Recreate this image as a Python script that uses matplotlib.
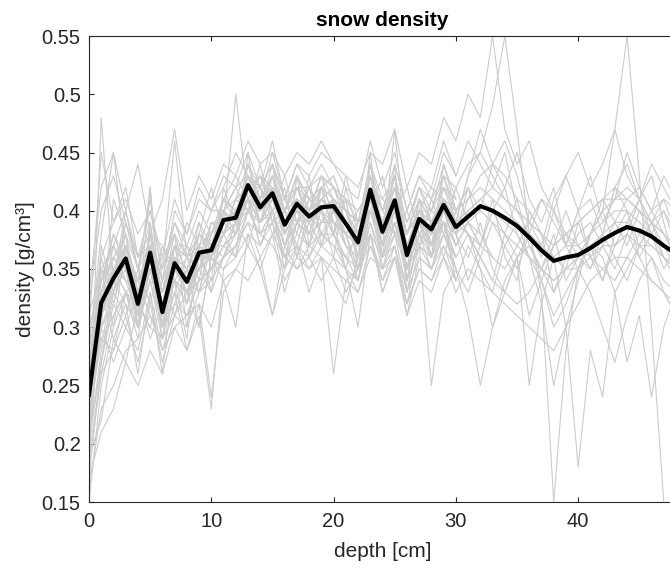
import numpy as np
import matplotlib
matplotlib.use('Agg')
import matplotlib.pyplot as plt
from matplotlib.ticker import FormatStrFormatter

plt.rcParams['font.family'] = ['Liberation Sans', 'DejaVu Sans']

# individual density profiles [g/cm3], one value per cm from the surface
profiles = [
    [.26,.34,.36,.38,.33,.37,.33,.36,.35,.38,.37,.40,.41,.44,.41,.43,.40,.42,.41,.42,.41,.40,.38,.43,.39,.42,.37,.40,.39,.42,.40,.41,.42,.41,.40,.39,.38,.37,.36,.37,.37,.38,.39,.40,.40,.39,.38,.37,.36],
    [.22,.29,.31,.33,.30,.34,.29,.33,.31,.34,.35,.37,.38,.41,.39,.40,.37,.39,.38,.39,.39,.37,.36,.40,.37,.39,.35,.38,.37,.39,.37,.39,.40,.39,.38,.37,.36,.35,.34,.35,.35,.36,.37,.37,.38,.37,.37,.36,.35],
    [.30,.45,.39,.42,.36,.40,.35,.39,.37,.40,.38,.41,.40,.42,.42,.44,.40,.43,.41,.42,.43,.40,.39,.44,.40,.43,.38,.41,.40,.43,.42,.44,.45,.43,.41,.40,.39,.38,.37,.38,.39,.40,.41,.42,.41,.40,.39,.38,.37],
    [.18,.26,.28,.31,.27,.32,.27,.31,.30,.33,.34,.36,.37,.40,.38,.39,.36,.38,.37,.38,.38,.36,.34,.39,.35,.38,.33,.36,.35,.38,.36],
    [.24,.33,.38,.35,.30,.39,.31,.34,.32,.35,.39,.38,.36,.45,.38,.40,.35,.43,.37,.42,.38,.41,.35,.40,.39,.43,.34,.41,.36,.44,.40,.42,.38,.36,.35,.37,.39,.41,.40,.38,.36,.35,.37,.39,.41,.42,.40,.38,.36],
    [.21,.31,.34,.40,.35,.34,.36,.38,.30,.36,.34,.42,.39,.41,.43,.40,.41,.38,.43,.37,.41,.40,.36,.45,.36,.44,.33,.38,.40,.39,.35],
    [.27,.35,.30,.37,.34,.42,.30,.37,.36,.33,.38,.40,.42,.40,.44,.39,.42,.36,.40,.43,.39,.35,.39,.41,.37,.47,.36,.37,.41,.38,.42,.39,.37,.41,.36,.34,.40,.38,.33,.35,.39,.36,.34,.37,.38,.41,.43,.39,.35],
    [.16,.23,.25,.28,.29,.31,.28,.30,.31,.32,.30,.34,.35,.37,.35,.38,.36,.35,.37,.36,.35,.34,.33,.36,.35,.37,.32,.35,.34,.36,.33,.35,.34,.33,.32,.31,.30,.29,.28,.30,.32,.34,.35,.36,.36,.35,.34,.33,.32],
    [.32,.40,.43,.39,.35,.41,.34,.40,.38,.41,.40,.42,.45,.43,.41,.45,.41,.44,.42,.44,.42,.41,.40,.42,.40,.44,.40,.43,.41,.45,.43,.46,.44,.42,.45,.40,.38,.41,.39,.37,.40,.41,.38,.42,.44,.41,.39,.40,.38],
    [.20,.28,.35,.33,.29,.36,.32,.34,.29,.37,.33,.36,.39,.41,.37,.40,.37,.41,.36,.39,.41,.37,.35,.41,.36,.40,.34,.39,.36,.40,.37],
    [.25,.37,.33,.36,.31,.35,.33,.38,.34,.39,.35,.38,.41,.42,.39,.41,.39,.40,.42,.38,.40,.39,.37,.42,.40,.38,.35,.41,.37,.39,.38,.36,.39,.35,.33,.36,.38,.34,.31,.33,.35,.37,.36,.33,.35,.37,.36,.34,.33],
    [.19,.33,.29,.32,.26,.33,.28,.32,.35,.30,.36,.35,.37,.39,.36,.38,.33,.37,.35,.36,.34,.32,.36,.38,.33,.36,.31,.34,.33,.36,.34],
    [.28,.38,.45,.36,.34,.37,.35,.46,.36,.38,.37,.41,.39,.43,.42,.44,.38,.42,.40,.43,.42,.39,.38,.41,.39,.43,.37,.40,.42,.41,.39,.43,.47,.44,.42,.45,.41,.39,.42,.37,.40,.43,.39,.41,.45,.42,.40,.43,.41],
    [.23,.31,.36,.34,.33,.38,.30,.36,.34,.36,.39,.39,.38,.42,.40,.41,.39,.40,.39,.42,.40,.38,.37,.43,.37,.41,.36,.39,.37,.42,.39],
    [.17,.27,.32,.30,.28,.33,.26,.35,.33,.34,.35,.37,.36,.40,.38,.37,.35,.39,.38,.37,.38,.35,.34,.38,.36,.37,.33,.38,.35,.39,.34,.37,.35,.30,.33,.36,.31,.34,.30,.32,.35,.33,.30,.27,.31,.34,.36,.33,.31],
    [.29,.36,.39,.41,.38,.40,.36,.41,.38,.42,.40,.43,.42,.45,.42,.46,.41,.44,.43,.45,.44,.42,.41,.46,.42,.45,.40,.43,.42,.46,.43],
    [.22,.32,.37,.34,.31,.42,.30,.33,.36,.35,.33,.40,.38,.44,.42,.39,.40,.37,.41,.40,.36,.42,.38,.40,.43,.38,.37,.39,.36,.40,.38,.34,.37,.40,.42,.38,.36,.32,.25,.30,.34,.38,.40,.37,.39,.41,.38,.36,.34],
    [.26,.30,.41,.38,.35,.37,.34,.37,.35,.38,.42,.38,.40,.41,.43,.42,.39,.41,.38,.42,.43,.40,.39,.40,.38,.41,.39,.42,.39,.41,.38],
    [.20,.48,.34,.37,.32,.36,.31,.36,.33,.36,.37,.38,.41,.40,.41,.43,.38,.40,.39,.40,.41,.39,.36,.41,.38,.42,.36,.38,.39,.40,.37,.39,.37,.40,.38,.41,.37,.35,.38,.34,.36,.38,.41,.39,.37,.40,.38,.35,.37],
    [.31,.35,.33,.39,.36,.38,.37,.35,.39,.37,.36,.41,.43,.41,.40,.42,.40,.43,.40,.41,.39,.38,.40,.42,.41,.40,.38,.42,.40,.44,.41],
    [.24,.29,.28,.33,.34,.31,.29,.33,.28,.31,.23,.35,.36,.38,.37,.39,.34,.36,.35,.37,.36,.35,.33,.37,.35,.36,.32,.37,.35,.38,.36,.38,.35,.33,.37,.39,.36,.34,.37,.40,.37,.35,.38,.36,.34,.37,.39,.36,.35],
    [.27,.33,.36,.35,.30,.34,.33,.37,.32,.38,.36,.39,.50,.41,.39,.42,.37,.39,.40,.38,.37,.36,.38,.42,.35,.39,.34,.37,.36,.38,.35],
    [.23,.32,.34,.38,.30,.37,.29,.36,.34,.35,.38,.40,.39,.44,.40,.43,.39,.40,.38,.41,.42,.40,.37,.42,.39,.42,.38,.41,.39,.40,.38,.42,.40,.44,.46,.43,.39,.37,.41,.43,.40,.36,.38,.42,.40,.37,.39,.41,.38],
    [.15,.25,.30,.33,.31,.34,.30,.32,.31,.34,.35,.36,.38,.41,.37,.40,.36,.39,.37,.40,.38,.36,.35,.40,.36,.39,.35,.37,.36,.39,.36],
    [.21,.27,.33,.31,.35,.32,.37,.34,.36,.39,.37,.40,.38,.42,.40,.44,.41,.39,.42,.40,.38,.43,.39,.41,.37,.40,.42,.38,.36,.41,.39,.43,.45,.49,.55,.47,.38,.33,.15,.28,.35,.37,.34,.38,.40,.36,.38,.40,.37],
    [.19,.22,.29,.27,.32,.30,.34,.31,.35,.33,.37,.36,.39,.37,.41,.38,.40,.36,.39,.37,.40,.38,.35,.39,.36,.38,.40,.37,.39,.36,.40,.38,.36,.39,.37,.35,.38,.36,.40,.37,.35,.38,.40,.47,.55,.43,.30,.15],
    [.17,.21,.23,.27,.25,.28,.26,.30,.28,.32,.24,.33,.35,.34,.36,.31,.35,.37,.33,.36,.26,.34,.35,.38,.33,.36,.34,.37,.25,.33,.35,.31,.25,.30,.34,.36,.25,.32,.36,.30,.18,.28,.24,.33,.27,.31,.24,.30,.33],
    [.33,.42,.45,.40,.44,.38,.41,.47,.40,.43,.41,.44,.43,.46,.44,.45,.43,.45,.44,.46,.44,.43,.42,.45,.44,.47,.42,.45,.44,.48,.46,.50,.48,.55,.47,.44,.46,.42,.40,.43,.45,.42,.44,.47,.43,.41,.44,.42,.40],
    [.22,.30,.27,.30,.33,.29,.32,.35,.33,.30,.36,.34,.30,.38,.35,.31,.37,.35,.36,.34,.36,.33,.35,.37,.34,.36,.32,.35,.34,.37,.35,.33,.36,.34,.38,.36,.37,.35,.33,.36,.38,.39,.37,.35,.38,.36,.34,.33,.31],
    [.25,.32,.35,.37,.34,.35,.33,.36,.35,.37,.38,.39,.40,.41,.40,.42,.40,.41,.40,.42,.41,.39,.38,.41,.39,.41,.37,.40,.38,.40,.39,.40,.41,.42,.41,.40,.39,.38,.37,.38,.39,.40,.41,.41,.41,.40,.39,.38,.36],
    [.24,.31,.33,.36,.33,.35,.32,.34,.33,.35,.36,.38,.39,.42,.41,.42,.39,.41,.40,.41,.40,.39,.37,.41,.38,.40,.36,.39,.38,.40,.38,.39,.38],
    [.28,.34,.37,.35,.32,.38,.34,.36,.35,.38,.37,.40,.39,.41,.39,.43,.40,.42,.39,.41,.42,.40,.39,.43,.40,.41,.38,.40,.39,.41,.40,.42],
    [.21,.30,.32,.36,.31,.35,.30,.34,.32,.36,.36,.39,.40,.43,.41,.42,.38,.40,.39,.41,.40,.37,.36,.41,.37,.40,.35,.38,.37,.40,.37],
    [.26,.33,.35,.34,.34,.36,.33,.37,.36,.35,.37,.37,.38,.40,.40,.41,.40,.39,.41,.39,.39,.38,.39,.40,.39,.38,.37,.39,.38,.41,.39,.38,.37,.36],
    [.23,.36,.32,.37,.30,.38,.33,.35,.37,.34,.39,.38,.41,.40,.42,.40,.43,.39,.40,.42,.38,.41,.36,.44,.38,.43,.35,.40,.37,.43,.39],
    [.30,.34,.38,.36,.34,.35,.35,.38,.36,.37,.38,.41,.40,.42,.43,.41,.41,.42,.40,.43,.41,.38,.37,.42,.39,.42,.36,.41,.39,.40,.38,.40],
    [.20,.27,.34,.32,.30,.35,.31,.36,.34,.33,.35,.37,.39,.40,.39,.40,.37,.40,.38,.39,.40,.38,.34,.40,.37,.41,.35,.37,.38,.39,.36],
    [.25,.35,.37,.40,.36,.37,.34,.39,.36,.37,.40,.40,.42,.43,.42,.44,.41,.42,.42,.43,.42,.41,.39,.44,.41,.43,.39,.42,.41,.43,.40,.41],
    [.19,.26,.31,.33,.32,.30,.29,.31,.33,.36,.34,.36,.37,.39,.38,.40,.36,.37,.36,.38,.37,.35,.30,.38,.34,.37,.31,.36,.35,.37,.34],
    [.27,.31,.34,.39,.35,.39,.32,.37,.37,.36,.36,.40,.39,.43,.39,.41,.40,.43,.41,.40,.41,.40,.38,.43,.40,.42,.38,.40,.40,.42,.41],
    [.23,.31,.35,.33,.32,.36,.31,.35,.33,.37,.36,.39,.38,.41,.40,.41,.39,.40,.39,.40,.41,.39,.38,.40,.38,.40,.37,.39,.38,.40,.39,.40,.41,.40,.39,.38,.36,.35,.34,.35,.36,.37,.38,.39,.39,.38,.37,.36,.35],
    [.26,.33,.34,.37,.33,.36,.32,.36,.34,.36,.37,.39,.40,.42,.40,.42,.39,.41,.40,.41,.40,.39,.38,.42,.38,.41,.37,.40,.38,.41,.39,.38,.36,.34,.33,.32,.33,.35,.37,.38,.37,.36,.35,.34,.36,.38,.40,.41,.40],
    [.24,.30,.33,.35,.31,.35,.30,.34,.33,.35,.36,.38,.39,.41,.39,.41,.38,.40,.39,.40,.39,.38,.37,.41,.37,.40,.36,.39,.37,.39,.38,.41,.43,.44,.43,.41,.40,.38,.36,.35,.36,.38,.40,.41,.42,.41,.39,.37,.35],
]

# mean profile
mean_density = [.242, .321, .342, .359, .320, .364, .313, .355, .339, .364, .366,
                .392, .394, .422, .403, .415, .388, .406, .395, .403, .404, .389,
                .373, .418, .382, .409, .362, .393, .384, .405, .386, .395, .404,
                .400, .394, .387, .377, .366, .357, .360, .362, .368, .375, .381,
                .386, .383, .378, .370, .363]

fig = plt.figure(figsize=(6.7, 5.7), dpi=100)
ax = fig.add_axes([89/670, 68/570, 587/670, 466/570])

for p in profiles:
    ax.plot(np.arange(len(p)), p, color='#cccccc', lw=0.8)
ax.plot(np.arange(len(mean_density)), mean_density, color='k', lw=3)

ax.set_xlim(0, 48)
ax.set_ylim(0.15, 0.55)
ax.set_xticks([0, 10, 20, 30, 40])
ax.set_yticks(np.arange(0.15, 0.551, 0.05))
ax.yaxis.set_major_formatter(FormatStrFormatter('%g'))

dark = '#262626'
for s in ax.spines.values():
    s.set_color(dark)
    s.set_linewidth(0.8)
ax.tick_params(direction='in', length=3.6, width=0.8, colors=dark, labelsize=14.5,
               top=True, right=True)
ax.tick_params(axis='x', pad=7)
ax.tick_params(axis='y', pad=6)
ax.set_xlabel('depth [cm]', fontsize=15, color=dark, labelpad=8)
ax.set_ylabel('density [g/cm³]', fontsize=15, color=dark, labelpad=5)
ax.set_title('snow density', fontsize=15, fontweight='bold', color='k', pad=7)

fig.savefig('out.png', dpi=100)
